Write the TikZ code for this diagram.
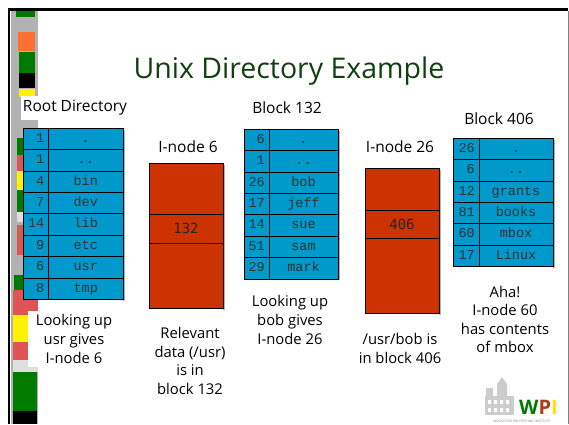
\documentclass[tikz,border=0pt]{standalone}
\usepackage{fontspec}
\setmainfont{Open Sans}
\setmonofont{Liberation Mono}
\newfontfamily\ptrfont{DejaVu Sans Mono}
\usetikzlibrary{calc}

\definecolor{dirblue}{RGB}{0,153,204}
\definecolor{inodered}{RGB}{204,51,0}
\definecolor{titlegreen}{RGB}{16,64,16}
\definecolor{stripgreen}{RGB}{0,122,0}
\definecolor{stripred}{RGB}{222,84,84}
\definecolor{striporange}{RGB}{255,110,50}
\definecolor{wpired}{RGB}{170,60,30}

\tikzset{
  dirrow/.style={draw=black, fill=dirblue, line width=0.6pt},
  numtext/.style={font=\ttfamily\fontsize{13.5}{14}\selectfont, text=black!80,
    anchor=east, inner sep=0pt, text height=7pt, text depth=0pt},
  nametext/.style={numtext, anchor=center},
  inodebox/.style={draw=black, fill=inodered, line width=0.6pt},
  ptrtext/.style={font=\ptrfont\fontsize{14}{15}\selectfont, text=black!85},
  heading/.style={font=\fontsize{15.5}{18}\selectfont},
  remark/.style={font=\fontsize{14.8}{18.6}\selectfont, align=center},
  shadow/.style={fill=black!30},
}

% Verzeichnistabelle: #1 Name, #2 links, #3 oben, #4 Spaltengrenze, #5 rechts, #6 Eintraege
\newcommand{\dirtable}[6]{%
  \foreach \num/\entry [count=\r] in {#6} {
    \pgfmathsetmacro{\ytop}{#3+(\r-1)*\rowh}
    \fill[shadow] (#5,\ytop+1.5) rectangle (#5+1.5,\ytop+\rowh+1.5);
    \draw[dirrow] (#2,\ytop) rectangle (#5,\ytop+\rowh);
    \draw[dirrow] (#4,\ytop) -- (#4,\ytop+\rowh);
    \node[numtext] (#1-num\r) at (#4-4,\ytop+\rowh/2) {\num};
    \node[nametext] (#1-name\r) at ({(#4+#5)/2},\ytop+\rowh/2) {\entry};
  }
}

% I-node: #1 Name, #2 links, #3 oben, #4 rechts, #5 unten, #6/#7 Zeigerzeile, #8 Block
\newcommand{\inodeblock}[8]{%
  \fill[shadow] (#4,#3+2) rectangle (#4+2,#5+2);
  \draw[inodebox] (#2,#3) rectangle (#4,#5);
  \draw[line width=0.6pt] (#2,#6) -- (#4,#6) (#2,#7) -- (#4,#7);
  \node[ptrtext] (#1-ptr) at ({(#2+#4)/2},{(#6+#7)/2}) {#8};
}

\begin{document}
\begin{tikzpicture}[x=1pt,y=-1pt]

% ---------- Parameter ----------
\def\rowh{21.4}

\useasboundingbox (0,0) rectangle (569,424);

% ===================
% Folienrahmen + Farbstreifen links
% ===================
\fill[gray!60] (11,10.5) rectangle (38,424);
\foreach \ya/\yb/\xa/\xb/\col in {
    10.5/17/16/35/stripgreen, 32/51/18/35/striporange, 52/73/19/35/stripgreen,
    73/88/19/35/black, 89/97/19/35/yellow, 138/155/17/35/stripgreen,
    155/171/17/35/stripred, 171/190/17/35/yellow, 190/212/17/35/stripgreen,
    212/222/17/35/gray!25, 225/255/17/35/stripred, 275/290/14/36/stripgreen,
    290/315/13/38/stripred, 315/342/13/38/yellow, 342/360/13/38/stripred,
    360/372/13/38/gray!25, 372/411/13/37/stripgreen, 411/424/13/37/black}
  \fill[\col] (\xa,\ya) rectangle (\xb,\yb);

\draw[line width=2.5pt] (9,424) -- (9,9.5) -- (568,9.5);
\draw[gray, line width=1pt] (568,10.5) -- (568,424);

% Titel
\node[font=\fontsize{28.5}{32}\selectfont, text=titlegreen] (title) at (289,71) {Unix Directory Example};

% ===================
% Wurzelverzeichnis
% ===================
\node[heading, fill=white, inner xsep=2pt, minimum height=24pt] (rootlbl) at (75,108) {Root Directory};
\dirtable{root}{23}{128}{48.5}{123}{1/., 1/.., 4/bin, 7/dev, 14/lib, 9/etc, 6/usr, 8/tmp}
\node[remark, fill=white, inner xsep=8pt, inner ysep=4pt] (rootnote) at (74,339)
  {Looking up\\usr gives\\I-node 6};

% I-node 6
\node[heading] (ino6lbl) at (188,147) {I-node 6};
\inodeblock{ino6}{149}{163}{223}{308}{214}{243}{132}
\node[remark] (ino6note) at (190,361) {Relevant\\data (/usr)\\is in\\block 132};

% ===================
% Block 132 (/usr)
% ===================
\node[heading] (b132lbl) at (287,108) {Block 132};
\dirtable{b132}{244}{129}{269}{338}{6/., 1/.., 26/bob, 17/jeff, 14/sue, 51/sam, 29/mark}
\node[remark] (b132note) at (290,320) {Looking up\\bob gives\\I-node 26};

% I-node 26
\node[heading] (ino26lbl) at (400,147) {I-node 26};
\inodeblock{ino26}{365}{168}{439}{313}{210}{238}{406}
\node[remark] (ino26note) at (400,348.5) {/usr/bob is\\in block 406};

% ===================
% Block 406 (/usr/bob)
% ===================
\node[heading] (b406lbl) at (499,119) {Block 406};
\dirtable{b406}{453}{138}{479}{553}{26/., 6/.., 12/grants, 81/books, 60/mbox, 17/Linux}
\node[remark] (b406note) at (505,319.5) {Aha!\\I-node 60\\has contents\\of mbox};

% ---------- Logo ----------
\fill[gray!40] (485,396) rectangle (514,415);
\fill[gray!40] (486,388) rectangle (493,396) (497,384) rectangle (507,396);
\fill[gray!40] (497,384) -- (502,377) -- (507,384) -- cycle;
\foreach \wx in {488,494,500,506}
  \fill[white] (\wx,400) rectangle (\wx+3,404) (\wx,408) rectangle (\wx+3,412);
\node[font=\bfseries\fontsize{20}{20}\selectfont, anchor=base west, inner sep=0pt] (wpi) at (519,414)
  {\textcolor{stripgreen}{W}\textcolor{wpired}{P}\textcolor{yellow!85!orange}{I}};
\node[font=\fontsize{3.2}{3.5}\selectfont, text=gray, inner sep=0pt] (wpisub) at (522,421.5)
  {WORCESTER POLYTECHNIC INSTITUTE};

\end{tikzpicture}
\end{document}
